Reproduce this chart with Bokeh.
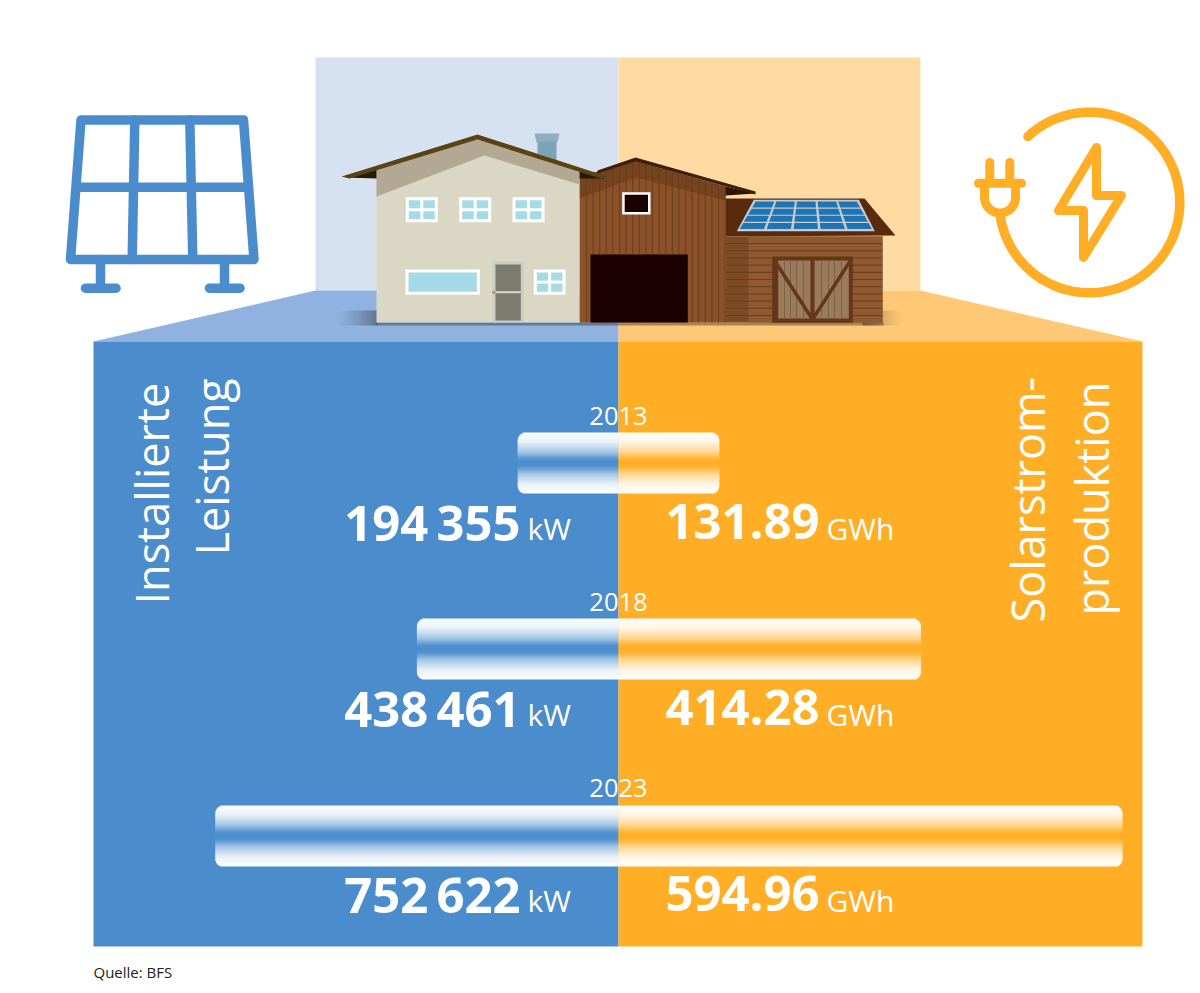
from bokeh.core.properties import value
from bokeh.embed import file_html
from bokeh.models import Range1d
from bokeh.plotting import figure
from bokeh.resources import INLINE
import numpy as np

# values
years = ["2013", "2018", "2023"]
installed_kw = [194355, 438461, 752622]
production_gwh = [131.89, 414.28, 594.96]
# the bars are not to scale with the numbers, lengths as drawn (1 = 2013 blue bar)
bar_left = [1, 2, 4]
bar_right = [1, 3, 5]

BLUE = "#4a8ccc"
ORANGE = "#ffae26"
FONT = value("Open Sans")
CENTER = 618
BAR_UNIT = 100.8
# svg text sits this far (in em) below the asked baseline, so lift it
BASE_SHIFT = 0.385

# canvas coordinates are the pixels of the page
p = figure(width=1192, height=985, x_range=Range1d(0, 1192), y_range=Range1d(985, 0),
           x_axis_type=None, y_axis_type=None, tools="", toolbar_location=None,
           output_backend="svg", min_border=0, outline_line_color=None,
           background_fill_color="white", border_fill_color="white")
p.grid.visible = False
p.extra_x_ranges["bar"] = Range1d(-CENTER / BAR_UNIT, (1192 - CENTER) / BAR_UNIT)


def poly(points, color):
    xs, ys = zip(*points)
    p.patch(list(xs), list(ys), fill_color=color, line_color=None)


def box(x0, y0, x1, y1, color):
    p.quad(left=x0, right=x1, top=y0, bottom=y1, fill_color=color, line_color=None)


def stroke(points, color, width):
    xs, ys = zip(*points)
    p.line(list(xs), list(ys), line_color=color, line_width=width,
           line_cap="round", line_join="round")


def mix(color, alpha):
    # colour laid over white
    rgb = [int(color[i:i + 2], 16) for i in (1, 3, 5)]
    return "#%02x%02x%02x" % tuple(round(255 + (c - 255) * alpha) for c in rgb)


# ===== BACKGROUND =====
box(315, 57, CENTER, 290, "#d6e1f1")
box(CENTER, 57, 920, 290, "#ffdba4")
poly([(93, 341), (315, 290), (CENTER, 290), (CENTER, 341)], "#8fb2e0")
poly([(CENTER, 290), (920, 290), (1142, 341), (CENTER, 341)], "#ffc877")
box(93, 341, CENTER, 946, BLUE)
box(CENTER, 341, 1142, 946, ORANGE)

# ===== GROUND SHADOW =====
edge = np.arange(0, 42)
for side in (1, -1):
    start = 335 if side == 1 else 903
    lefts = start + side * edge
    p.quad(left=lefts, right=lefts + 1, top=310, bottom=325, fill_color="#333333",
           fill_alpha=(edge / 41) ** 1.5 * 0.55, line_color=None)
p.quad(left=376, right=883, top=322, bottom=325, fill_color="#333333", fill_alpha=0.45, line_color=None)

# ===== SOLAR PANEL ICON =====
stroke([(80.5, 119.5), (243, 119.5), (253.5, 259), (70, 259), (80.5, 119.5)], BLUE, 9.5)
stroke([(78, 186.7), (246, 186.7)], BLUE, 9.5)
stroke([(134.3, 119.5), (131.7, 259)], BLUE, 9.5)
stroke([(189.3, 119.5), (192.3, 259)], BLUE, 9.5)
stroke([(100, 259), (100, 287.7)], BLUE, 9.5)
stroke([(85, 287.7), (115.5, 287.7)], BLUE, 9.5)
stroke([(224, 259), (224, 287.7)], BLUE, 9.5)
stroke([(209, 287.7), (239.5, 287.7)], BLUE, 9.5)

# ===== PLUG ICON =====
ring = np.radians(np.linspace(-133, 170, 120))
stroke(list(zip(1089 + 90.3 * np.cos(ring), 202 + 90.3 * np.sin(ring))), ORANGE, 9.5)
stroke([(978, 182.7), (1021, 182.7)], ORANGE, 9)
stroke([(989.3, 162), (989.3, 182.7)], ORANGE, 9)
stroke([(1009.3, 162), (1009.3, 182.7)], ORANGE, 9)
cup = np.radians(np.linspace(0, 180, 30))
stroke([(1015, 183)] + list(zip(999.5 + 15.5 * np.cos(cup), 197 + 15.5 * np.sin(cup))) + [(984, 183)],
       ORANGE, 9)
stroke([(1096, 147), (1096, 195), (1121, 195), (1083, 257), (1083, 210), (1058, 210), (1096, 147)],
       ORANGE, 9)

# ===== SHED =====
box(725, 236, 882, 322, "#7c4a25")
box(748, 236, 882, 322, "#8f5a31")
shed_lines = np.arange(243, 322, 7.2)
p.segment(x0=725, x1=882, y0=shed_lines, y1=shed_lines, line_color="#6b3d1c", line_width=1)
poly([(725, 198), (864, 198), (895, 235), (725, 236)], "#5a2a0e")
stroke([(725, 197), (752, 197)], "#f3e3c8", 1)
box(771.7, 256, 852.3, 322.3, "#65371a")
box(777.7, 260, 810, 318, "#9a7b5c")
box(814, 260, 848.3, 318, "#9a7b5c")
door_lines = [784, 790, 796, 803, 821, 828, 834, 841]
p.segment(x0=door_lines, x1=door_lines, y0=260, y1=318, line_color="#7f6246", line_width=1)
p.line([774, 812, 850], [260, 319, 260], line_color="#65371a", line_width=3.5)

# solar cells on the shed roof
poly([(753.3, 199.3), (858.3, 199.3), (874.3, 230.7), (736.3, 230.7)], "#c4cdd5")
for i in range(4):
    for j in range(5):
        t0, t1 = (i + 0.08) / 4, (i + 0.92) / 4
        s0, s1 = (j + 0.05) / 5, (j + 0.95) / 5
        y0, y1 = 200.5 + 28.5 * t0, 200.5 + 28.5 * t1
        l0, r0 = 754.5 - 17 * t0, 857 + 16 * t0
        l1, r1 = 754.5 - 17 * t1, 857 + 16 * t1
        poly([(l0 + (r0 - l0) * s0, y0), (l0 + (r0 - l0) * s1, y0),
              (l1 + (r1 - l1) * s1, y1), (l1 + (r1 - l1) * s0, y1)], "#2074b2")

# ===== BARN =====
poly([(579, 176), (635, 161), (725, 186), (725, 322), (579, 322)], "#8b5129")
poly([(579, 176), (635, 161), (725, 186), (725, 200), (636, 177), (579, 198)], "#75431f")
barn_lines = np.arange(586, 725, 6.6)
p.segment(x0=barn_lines, x1=barn_lines, y0=np.maximum(161, 161 + np.abs(barn_lines - 635) * 0.28),
          y1=322, line_color="#6b3d1c", line_width=1)
poly([(725, 186), (755, 193), (725, 195)], "#2c1406")
poly([(597, 170), (635, 157), (755, 191), (755, 194), (635, 161), (597, 173)], "#3f1f0b")
box(621.7, 191.7, 650, 214, "white")
box(624.2, 194.2, 647.5, 211.5, "#1b0102")
box(590, 254, 687.3, 322, "#1b0102")

# ===== HOUSE =====
poly([(534, 133), (559, 133), (557, 142), (536, 142)], "#8dafbe")
poly([(537, 141), (556, 141), (556, 160), (537, 153)], "#7ba5b5")
poly([(376, 168), (477, 139), (579, 168), (579, 322), (376, 322)], "#dbd7c5")
poly([(376, 168), (477, 139), (579, 168), (579, 184), (484, 155), (376, 196)], "#b2a894")
poly([(345, 177), (376, 168), (376, 178)], "#241a05")
poly([(579, 168), (604, 178), (579, 178)], "#241a05")
poly([(341, 176), (477, 134), (607, 176), (600, 178), (477, 139), (349, 178)], "#5a4312")

glass = "#a5dbe6"
for x0, y0, x1, y1 in [(405.3, 196.7, 437.3, 221.7), (458.7, 196.7, 490.7, 221.7),
                       (512, 196.7, 544, 221.7), (533.3, 269, 565, 294.3)]:
    xm, ym = (x0 + x1) / 2, (y0 + y1) / 2
    box(x0, y0, x1, y1, "white")
    box(x0 + 3, y0 + 3, xm - 1.5, ym - 1.5, glass)
    box(xm + 1.5, y0 + 3, x1 - 3, ym - 1.5, glass)
    box(x0 + 3, ym + 1.5, xm - 1.5, y1 - 3, glass)
    box(xm + 1.5, ym + 1.5, x1 - 3, y1 - 3, glass)
box(405, 269, 479.3, 294.3, "white")
box(408, 272, 476.3, 291.3, glass)
box(492.3, 261, 523.3, 321.7, "#c9ccc0")
box(495, 264, 520.3, 320, "#7c7c6e")
box(495, 290.7, 520.3, 292.7, "#d8d8cc")
p.scatter([493], [291.7], size=3, fill_color="#b98a4e", line_color=None)

# ===== BARS =====
BAR_HEIGHT = 61
RADIUS = 8
for k in range(len(years)):
    top = round(432 + k * 186.3)
    rows = np.arange(BAR_HEIGHT)
    dist = np.abs(rows + 0.5 - BAR_HEIGHT / 2) / (BAR_HEIGHT / 2)
    alpha = np.interp(dist, [0, 0.12, 0.36, 0.69, 1], [1, 0.95, 0.5, 0.12, 0.01])
    # outer corners are rounded row by row
    off = np.clip(RADIUS - np.minimum(rows + 0.5, BAR_HEIGHT - rows - 0.5), 0, RADIUS)
    inset = (RADIUS - np.sqrt(RADIUS ** 2 - off ** 2)) / BAR_UNIT
    # rows overlap the next one, otherwise the panel colour bleeds through the seams
    row_bottom = np.minimum(top + rows + 1.6, top + BAR_HEIGHT)
    p.quad(left=-bar_left[k] + inset, right=0, top=top + rows, bottom=row_bottom,
           fill_color=[mix(BLUE, a) for a in alpha], line_color=None, x_range_name="bar")
    p.quad(left=0, right=bar_right[k] - inset, top=top + rows, bottom=row_bottom,
           fill_color=[mix(ORANGE, a) for a in alpha], line_color=None, x_range_name="bar")


# ===== TEXT =====
def lifted(ys, size):
    return [y - BASE_SHIFT * size for y in ys]


baselines = [540, 726, 912]
p.text(x=CENTER, y=lifted([b - 115 for b in baselines], 25.5), text=years, text_color="white",
       text_font=FONT, text_font_size="25.5px", text_align="center", text_baseline="alphabetic")
kw_labels = [f"{v:,}".replace(",", "\u2009") for v in installed_kw]
gwh_labels = [f"{v:.2f}" for v in production_gwh]
p.text(x=520, y=lifted(baselines, 49), text=kw_labels, text_color="white", text_font=FONT,
       text_font_style="bold", text_font_size="49px", text_align="right", text_baseline="alphabetic")
p.text(x=819, y=lifted(baselines, 49), text=gwh_labels, text_color="white", text_font=FONT,
       text_font_style="bold", text_font_size="49px", text_align="right", text_baseline="alphabetic")
p.text(x=527, y=lifted(baselines, 30), text=["kW"] * 3, text_color="white", text_font=FONT,
       text_font_size="30px", text_baseline="alphabetic")
p.text(x=826, y=lifted(baselines, 30), text=["GWh"] * 3, text_color="white", text_font=FONT,
       text_font_size="30px", text_baseline="alphabetic")

p.text(x=lifted([168, 228, 1044, 1108], 45), y=[604, 555, 622, 615],
       text=["Installierte", "Leistung", "Solarstrom-", "produktion"],
       angle=np.pi / 2, text_color="white", text_font=FONT, text_font_size="45px",
       text_baseline="alphabetic")
p.text(x=93, y=lifted([977], 15), text=["Quelle: BFS"], text_color="#222222", text_font=FONT,
       text_font_size="15px", text_baseline="alphabetic")

open("out.html", "w").write(file_html(p, INLINE))
